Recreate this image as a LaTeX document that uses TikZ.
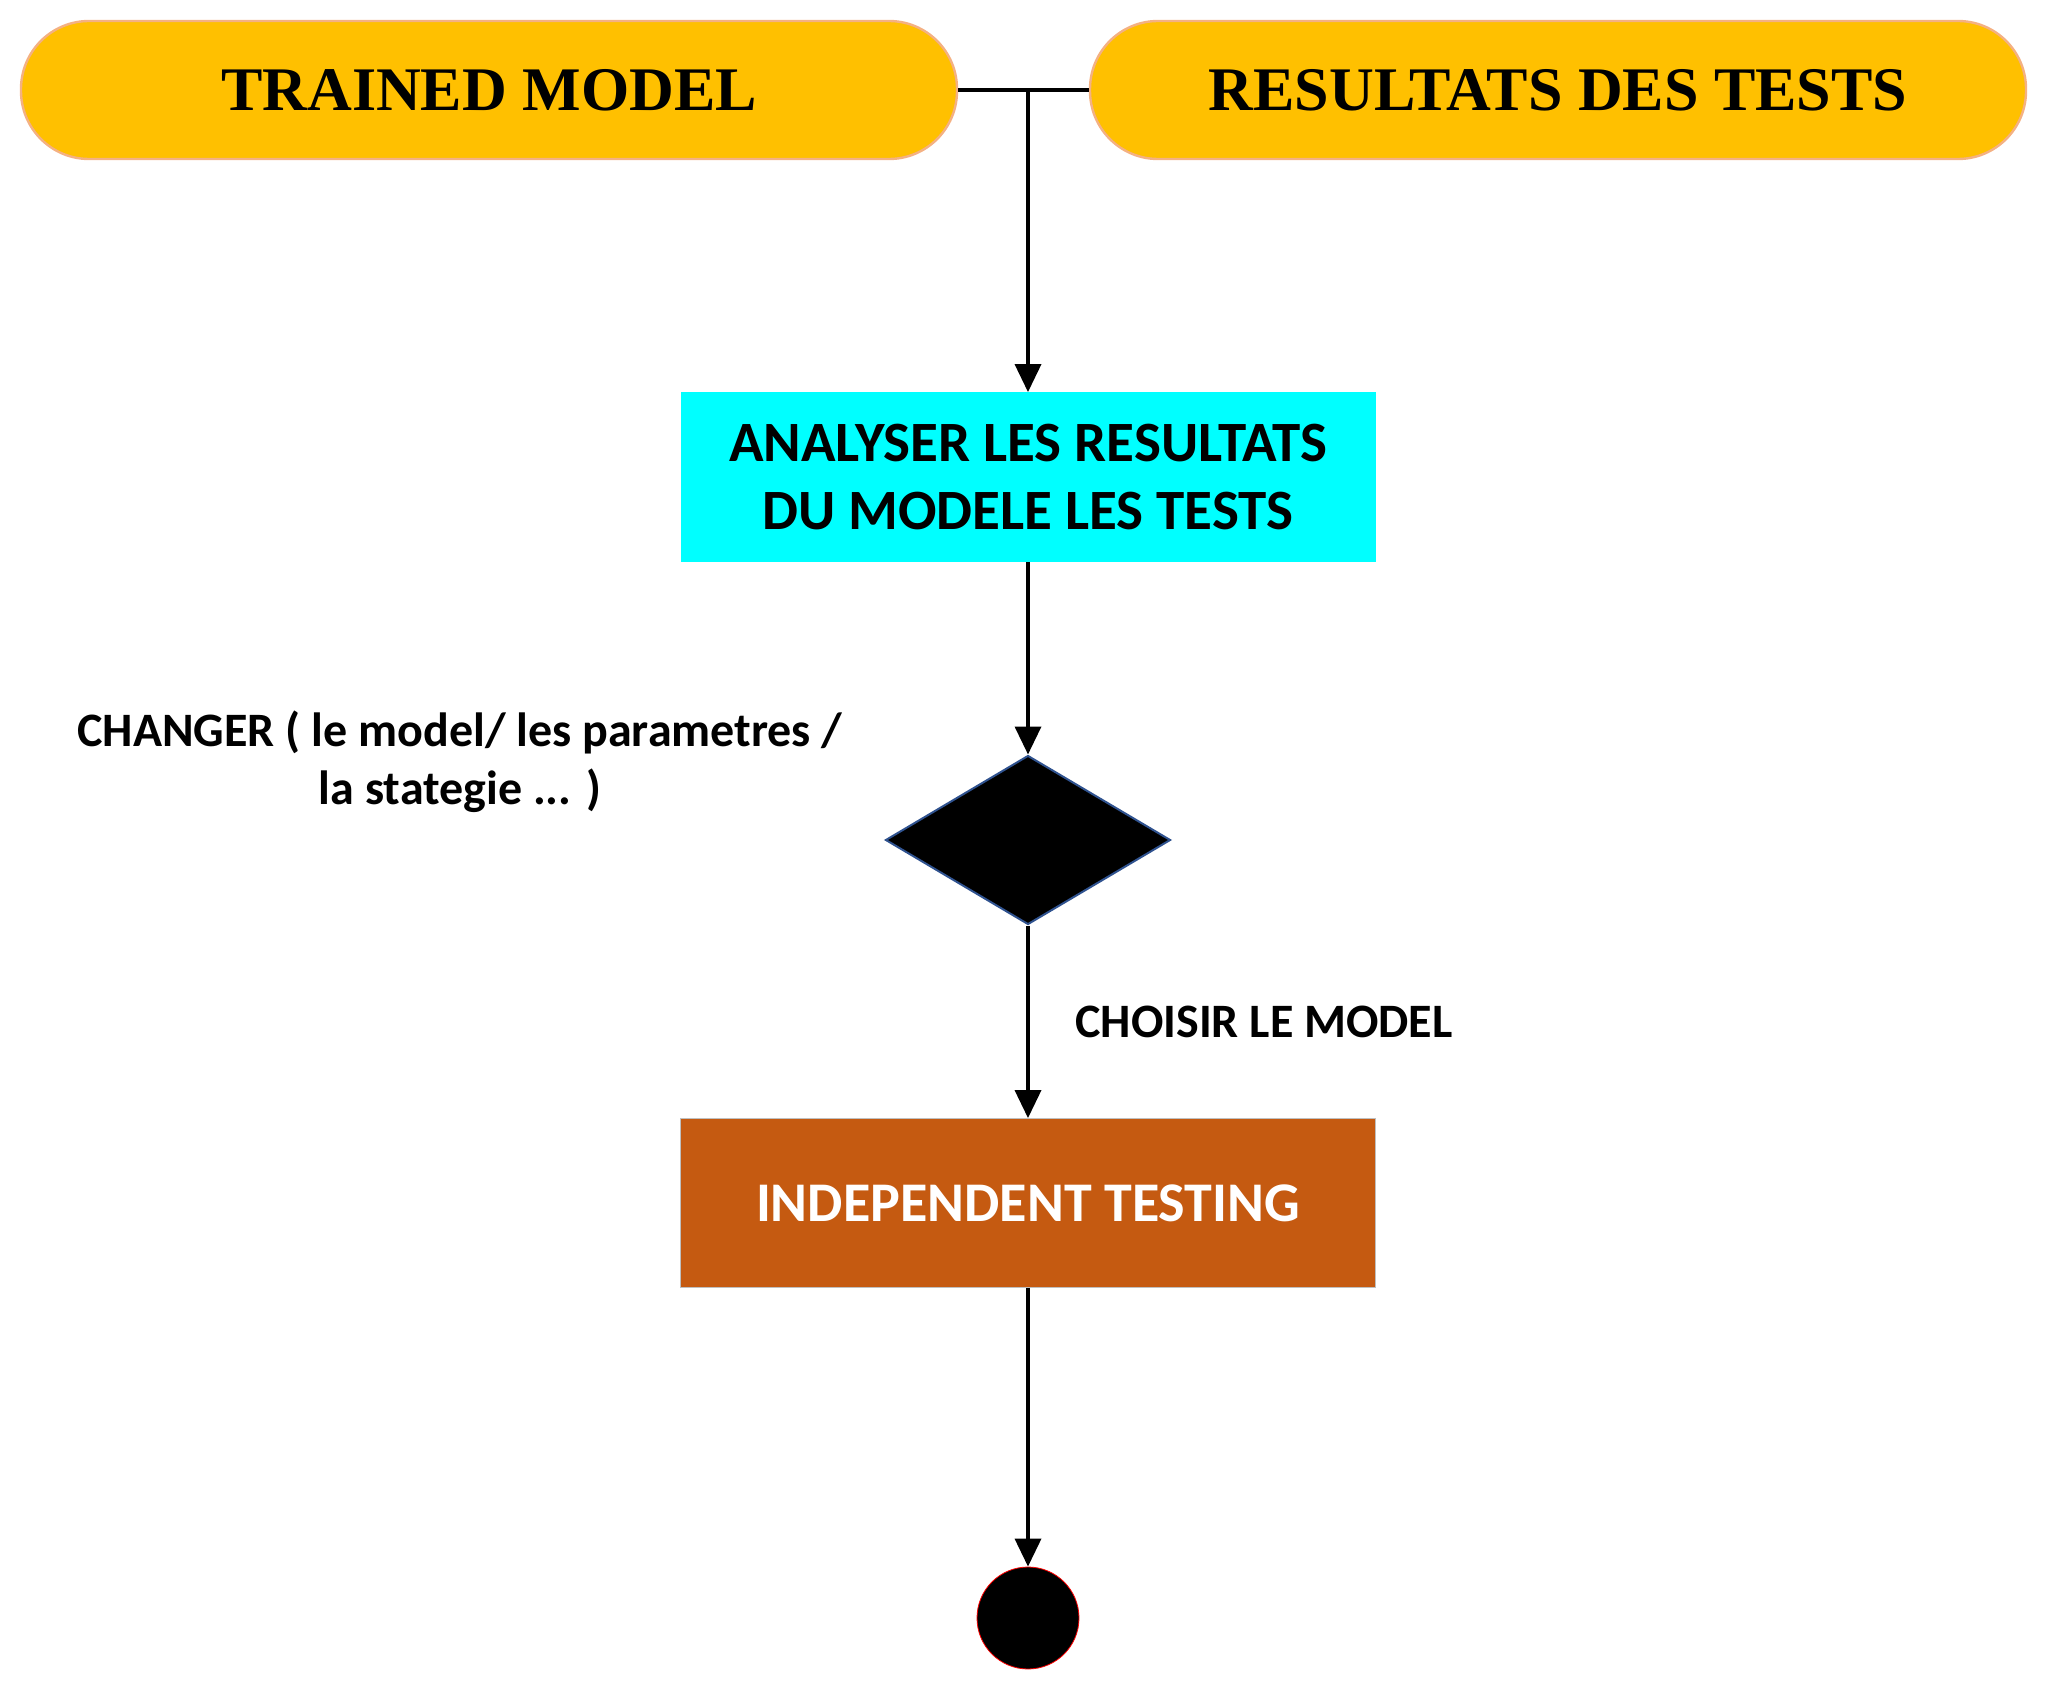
\documentclass[tikz,border=0pt]{standalone}
\usepackage{fontspec}
\setmainfont{Liberation Serif}
\newfontfamily\calibri{Carlito}
\usetikzlibrary{arrows.meta,shapes.geometric,positioning}
\definecolor{gold}{HTML}{FFC000}
\definecolor{goldline}{HTML}{F4B183}
\definecolor{aqua}{HTML}{00FFFF}
\definecolor{rust}{HTML}{C55A11}
\definecolor{diamondline}{HTML}{2F528F}

\begin{document}
\begin{tikzpicture}[x=0.5pt,y=-0.5pt]
        \tikzset{pill/.style={draw=goldline, line width=1.2pt, fill=gold, rounded corners=34pt,
                minimum width=468pt, minimum height=69pt, font=\fontsize{31}{36}\selectfont\bfseries}}
        \tikzset{stage/.style={minimum width=347.5pt, minimum height=84.5pt, align=center,
                font=\calibri\fontsize{28.5}{34}\selectfont\bfseries}}
        \tikzset{vector/.style={-{Triangle[length=14pt, width=13pt]}, line width=1.8pt}}
        \tikzset{note/.style={align=center, font=\calibri\fontsize{24}{29}\selectfont\bfseries}}
        \useasboundingbox (0,0) rectangle (2046,1690);
        \node[pill] (trained) at (489,90) {TRAINED MODEL};
        \node[pill] (results) at (1558,90) {RESULTATS DES TESTS};
        \node[stage, fill=aqua] (analyse) at (1028,477) {ANALYSER LES RESULTATS\\DU MODELE LES TESTS};
        \node[diamond, draw=diamondline, line width=1pt, fill=black, minimum width=142.5pt,
                minimum height=84.5pt, inner sep=0pt, aspect=1.7] (choice) at (1028,840) {};
        \node[stage, fill=rust, draw=black!25, text=white, font=\calibri\fontsize{28}{34}\selectfont\bfseries]
                (indep) at (1028,1203) {INDEPENDENT TESTING};
        \node[circle, draw=red, fill=black, minimum size=51pt, inner sep=0pt] (final) at (1028,1618) {};
        \coordinate (join) at (trained.east -| analyse.north);
        \draw[line width=2.2pt] (trained.east) -- (results.west);
        \draw[vector] (join) -- (analyse.north);
        \draw[vector] (analyse.south) -- (choice.north);
        \draw[vector] (choice.south) -- (indep.north);
        \draw[vector] (indep.south) -- (final.north);
        \node[note] (change) at (460,762) {CHANGER ( le model/ les parametres /\\la stategie ... )};
        \node[note] (pick) at (1264,1022) {CHOISIR LE MODEL};
\end{tikzpicture}
\end{document}
